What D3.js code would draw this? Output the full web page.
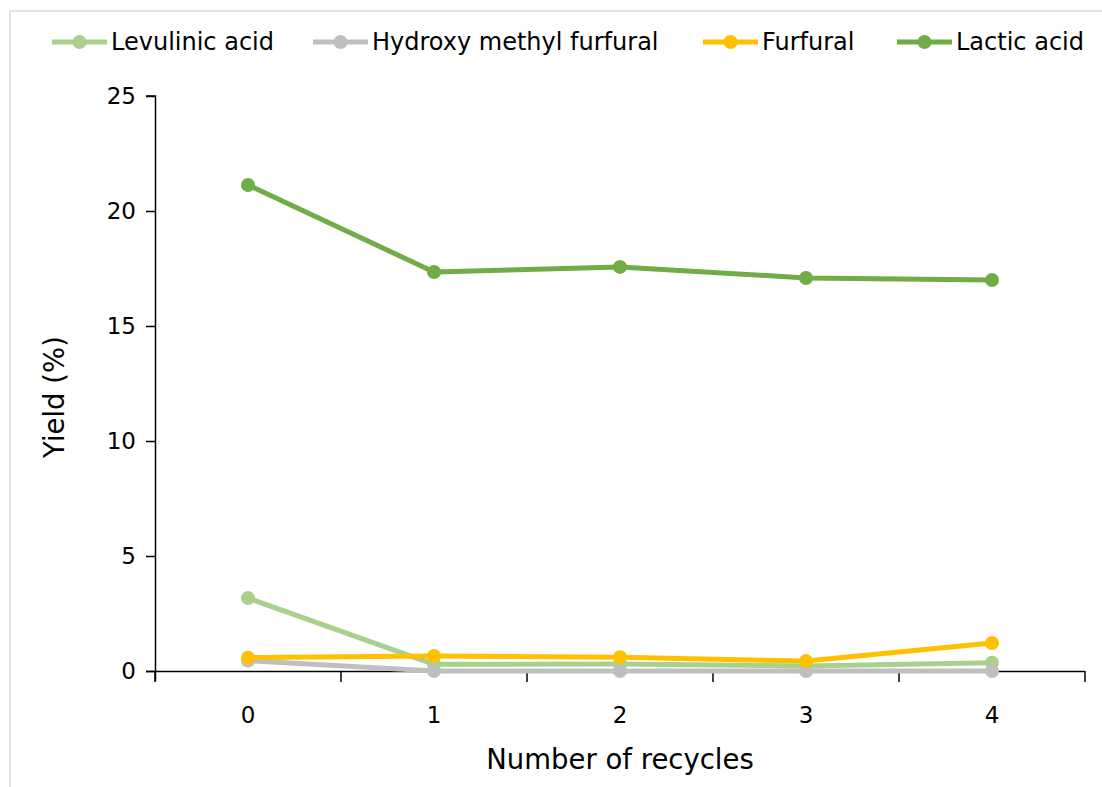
<!DOCTYPE html>
<html>
<head>
<meta charset="utf-8">
<script src="https://cdn.jsdelivr.net/npm/d3@7"></script>
<style>
  html, body { margin: 0; padding: 0; background: #fff; }
  svg { display: block; font-family: "DejaVu Sans", Verdana, sans-serif; }
</style>
</head>
<body>
<svg id="chart" width="1102" height="787"></svg>
<script>
// Recycle runs on the x axis
const recycles = ["0", "1", "2", "3", "4"];

// Product yields (%) per run
const levulinicAcid = [3.17, 0.29, 0.30, 0.22, 0.36];
const hmf = [0.45, 0.0, 0.0, 0.0, 0.0];
const furfural = [0.58, 0.65, 0.60, 0.43, 1.22];
const lacticAcid = [21.13, 17.35, 17.57, 17.09, 17.0];

const seriesNames = ["Levulinic acid", "Hydroxy methyl furfural", "Furfural", "Lactic acid"];
const seriesValues = [levulinicAcid, hmf, furfural, lacticAcid];
const seriesColors = ["#A9D18E", "#BFBFBF", "#FFC000", "#70AD47"];

const yTicks = [0, 5, 10, 15, 20, 25];

const svg = d3.select("#chart");

// Light frame around the chart area
svg.append("path")
  .attr("d", "M10,787 V11 H1102")
  .attr("fill", "none")
  .attr("stroke", "#d9d9d9")
  .attr("stroke-width", 1.5);

const plot = { left: 155, right: 1085, top: 96, bottom: 671 };

const x = d3.scaleBand().domain(recycles).range([plot.left, plot.right]);
const y = d3.scaleLinear().domain([0, 25]).range([plot.bottom, plot.top]);

// Y axis
const yAxis = svg.append("g")
  .attr("transform", `translate(${plot.left},0)`)
  .call(d3.axisLeft(y).tickValues(yTicks).tickSize(9).tickPadding(10));
yAxis.select(".domain").attr("d", `M-9,${plot.top}H0.5V${plot.bottom + 10}`);

// X axis with ticks at the band boundaries
const xAxis = svg.append("g")
  .attr("transform", `translate(0,${plot.bottom})`)
  .call(d3.axisBottom(x).tickSize(0).tickPadding(36));
xAxis.select(".domain").attr("d", `M${plot.left - 9},0.5H${plot.right}`);
xAxis.selectAll(".boundary")
  .data(d3.range(recycles.length + 1))
  .join("line")
  .attr("class", "boundary")
  .attr("x1", i => plot.left + i * x.step())
  .attr("x2", i => plot.left + i * x.step())
  .attr("y1", 0).attr("y2", 11)
  .attr("stroke", "#000");

svg.selectAll(".domain, .tick line, .boundary")
  .attr("stroke", "#000").attr("stroke-width", 1.5);
svg.selectAll(".tick text")
  .attr("fill", "#000")
  .style("font-size", "23px")
  .style("font-family", "'DejaVu Sans', Verdana, sans-serif");

// Axis titles
svg.append("text")
  .attr("x", 620).attr("y", 769)
  .attr("text-anchor", "middle")
  .style("font-size", "27.5px")
  .text("Number of recycles");

svg.append("text")
  .attr("transform", "translate(64,397) rotate(-90)")
  .attr("text-anchor", "middle")
  .style("font-size", "27.5px")
  .text("Yield (%)");

// Lines and markers
const line = d3.line()
  .x((d, i) => x(recycles[i]) + x.bandwidth() / 2)
  .y(d => y(d));

seriesValues.forEach((vals, s) => {
  const g = svg.append("g");
  g.append("path")
    .datum(vals)
    .attr("d", line)
    .attr("fill", "none")
    .attr("stroke", seriesColors[s])
    .attr("stroke-width", 5)
    .attr("stroke-linejoin", "round");
  g.selectAll("circle")
    .data(vals)
    .join("circle")
    .attr("cx", (d, i) => x(recycles[i]) + x.bandwidth() / 2)
    .attr("cy", d => y(d))
    .attr("r", 7)
    .attr("fill", seriesColors[s]);
});

// Legend
const legendX = [52, 313, 703, 897];
const legend = svg.append("g");
seriesNames.forEach((name, s) => {
  const g = legend.append("g").attr("transform", `translate(${legendX[s]},42)`);
  g.append("line")
    .attr("x1", 0).attr("x2", 55)
    .attr("stroke", seriesColors[s])
    .attr("stroke-width", 5);
  g.append("circle")
    .attr("cx", 27.5).attr("r", 7)
    .attr("fill", seriesColors[s]);
  g.append("text")
    .attr("x", 59).attr("y", 8)
    .style("font-size", "24px")
    .text(name);
});
</script>
</body>
</html>
